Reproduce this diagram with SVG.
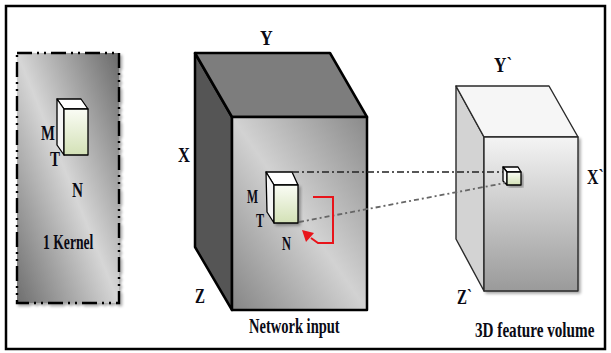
<svg xmlns="http://www.w3.org/2000/svg" width="611" height="353" viewBox="0 0 611 353">
<defs>
<linearGradient id="gKernel" x1="0" y1="1" x2="1" y2="0">
<stop offset="0" stop-color="#6e6e6e"/>
<stop offset="0.5" stop-color="#d6d6d6"/>
<stop offset="1" stop-color="#6a6a6a"/>
</linearGradient>
<linearGradient id="gFront" x1="0" y1="1" x2="1" y2="0">
<stop offset="0" stop-color="#858585"/>
<stop offset="0.5" stop-color="#d2d2d2"/>
<stop offset="1" stop-color="#8a8a8a"/>
</linearGradient>
<linearGradient id="gFeat" x1="0" y1="0" x2="0" y2="1">
<stop offset="0" stop-color="#f4f4f4"/>
<stop offset="1" stop-color="#9a9a9a"/>
</linearGradient>
<linearGradient id="gGreen" x1="0" y1="0" x2="0" y2="1">
<stop offset="0" stop-color="#fafcf5"/>
<stop offset="1" stop-color="#d3e1b6"/>
</linearGradient>
<filter id="sh" x="-10%" y="-10%" width="130%" height="130%">
<feGaussianBlur in="SourceAlpha" stdDeviation="1.5"/>
<feOffset dx="2" dy="2"/>
<feComponentTransfer><feFuncA type="linear" slope="0.35"/></feComponentTransfer>
<feMerge><feMergeNode/><feMergeNode in="SourceGraphic"/></feMerge>
</filter>
</defs>
<style>
.lbl{font-family:"Liberation Serif","Times New Roman",serif;font-weight:bold;fill:#0a0a14;}
.big{font-size:22px;}
.sm{font-size:18px;}
.edge{stroke:#000;stroke-width:2.5;stroke-linejoin:round;}
.fedge{stroke:#2a2a2a;stroke-width:1.4;stroke-linejoin:round;}
.cube{stroke:#000;stroke-width:1.3;stroke-linejoin:round;}
</style>
<rect x="6" y="6" width="599" height="343" fill="#fff" stroke="#000" stroke-width="2.5"/>

<g id="kernel">
<rect x="17" y="53" width="102" height="250" fill="url(#gKernel)" stroke="#000" stroke-width="2.4" stroke-dasharray="15 5 2 5 2 5" filter="url(#sh)"/>
<polygon points="57,99 81,99 88,109 64,109" fill="#fff" class="cube"/>
<polygon points="57,99 64,109 64,155 57,145" fill="#f4f4f4" class="cube"/>
<rect x="64" y="109" width="24" height="46" fill="url(#gGreen)" class="cube"/>
<text class="lbl big" transform="translate(41,140) scale(0.67,1)">M</text>
<text class="lbl big" transform="translate(50,166) scale(0.68,1)">T</text>
<text class="lbl big" transform="translate(72,197) scale(0.69,1)">N</text>
<text class="lbl big" transform="translate(43,249) scale(0.62,1)">1 Kernel</text>
</g>

<g id="network-input">
<polygon points="195,53 232,117 232,310 195,247" fill="#555" class="edge"/>
<polygon points="195,53 330,53 367,117 232,117" fill="#7d7d7d" class="edge"/>
<rect x="232" y="117" width="135" height="193" fill="url(#gFront)" class="edge"/>
<text class="lbl big" transform="translate(260,45) scale(0.8,1)">Y</text>
<text class="lbl big" transform="translate(178,162) scale(0.75,1)">X</text>
<text class="lbl big" transform="translate(195,303) scale(0.68,1)">Z</text>
<text class="lbl big" transform="translate(249,333) scale(0.66,1)">Network input</text>
</g>

<g id="input-kernel">
<polygon points="266,172 292,172 298,185 274,185" fill="#fff" class="cube"/>
<polygon points="266,172 274,185 274,223 267,212" fill="#f4f4f4" class="cube"/>
<rect x="274" y="185" width="24" height="38" fill="url(#gGreen)" class="cube" filter="url(#sh)"/>
<text class="lbl sm" transform="translate(247,203) scale(0.65,1)">M</text>
<text class="lbl sm" transform="translate(256,227) scale(0.67,1)">T</text>
<text class="lbl sm" transform="translate(282,250) scale(0.69,1)">N</text>
</g>

<g id="feature-volume">
<polygon points="456,86 484,137 484,291 456,239" fill="#d3d3d3" class="fedge"/>
<polygon points="456,86 549,86 578,137 484,137" fill="#f6f6f6" class="fedge"/>
<rect x="484" y="137" width="94" height="154" fill="url(#gFeat)" class="fedge" filter="url(#sh)"/>
<text class="lbl big" transform="translate(494,72) scale(0.78,1)">Y`</text>
<text class="lbl big" transform="translate(587,184) scale(0.72,1)">X`</text>
<text class="lbl big" transform="translate(457,304) scale(0.68,1)">Z`</text>
<text class="lbl big" transform="translate(475,337) scale(0.69,1)">3D feature volume</text>
</g>

<g id="feature-point">
<polygon points="503,167 518,167 521,172 507,172" fill="#fff" class="cube"/>
<polygon points="503,167 507,172 507,185 503,181" fill="#f4f4f4" class="cube"/>
<rect x="507" y="172" width="14" height="13" fill="url(#gGreen)" class="cube" filter="url(#sh)"/>
</g>

<g id="connectors" fill="none">
<line x1="292" y1="172" x2="503" y2="172" stroke="#222" stroke-width="1.5" stroke-dasharray="7 3 2 3"/>
<line x1="299" y1="222" x2="505" y2="183" stroke="#666" stroke-width="1.8" stroke-dasharray="5 3 2 3"/>
<path d="M313,197 H333 V243 H318 L311,238" stroke="#e8141a" stroke-width="2"/>
<polygon points="302,230 314,233 306,242" fill="#e8141a"/>
</g>
</svg>
